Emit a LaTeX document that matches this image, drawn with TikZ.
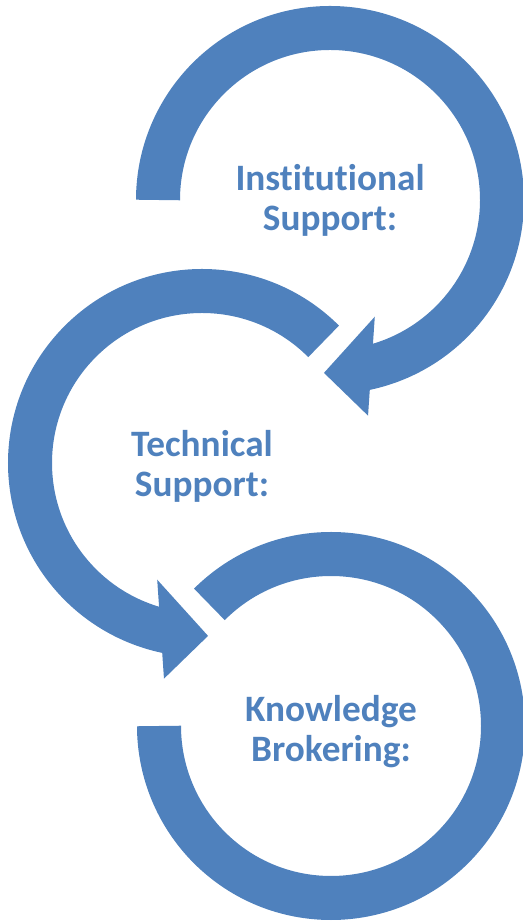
\documentclass[tikz,border=0pt]{standalone}
\usepackage{fontspec}
\setmainfont{Carlito}[Ligatures=CommonOff]
\usepackage{xcolor}
\definecolor{cycleblue}{RGB}{79,129,189}

\begin{document}
\begin{tikzpicture}[
    ring/.style={draw=cycleblue, line width=.44cm},
    tiphead/.style={fill=cycleblue},
    cycletext/.style={text=cycleblue, align=center, inner sep=0,
      font=\bfseries\fontsize{10.6}{11.4}\selectfont}]
  \useasboundingbox (0,0) rectangle (5.23,9.21);
  \path (3.30,7.21) coordinate (inst)
        (2.02,4.58) coordinate (tech)
        (3.31,1.95) coordinate (know);

  \node (instl) [cycletext] at (inst) {Institutional\\Support:};
  \node (techl) [cycletext, yshift=-.03cm] at (tech) {Technical\\Support:};
  \node (knowl) [cycletext, yshift=-.06cm] at (know) {Knowledge\\Brokering:};

  \draw[ring, shift={(inst)}] (180:1.72) arc[start angle=180, end angle=-79, radius=1.72];
  \fill[tiphead, shift={(inst)}] (-69:1.25) -- (-92:1.73) -- (-80:2.19) -- cycle;

  \draw[ring, shift={(tech)}] (45:1.72) arc[start angle=45, end angle=259, radius=1.72];
  \fill[tiphead, shift={(tech)}] (-111:1.25) -- (-88:1.73) -- (-100:2.19) -- cycle;

  \draw[ring, shift={(know)}] (135:1.72) arc[start angle=135, end angle=-180, radius=1.72];
\end{tikzpicture}
\end{document}
